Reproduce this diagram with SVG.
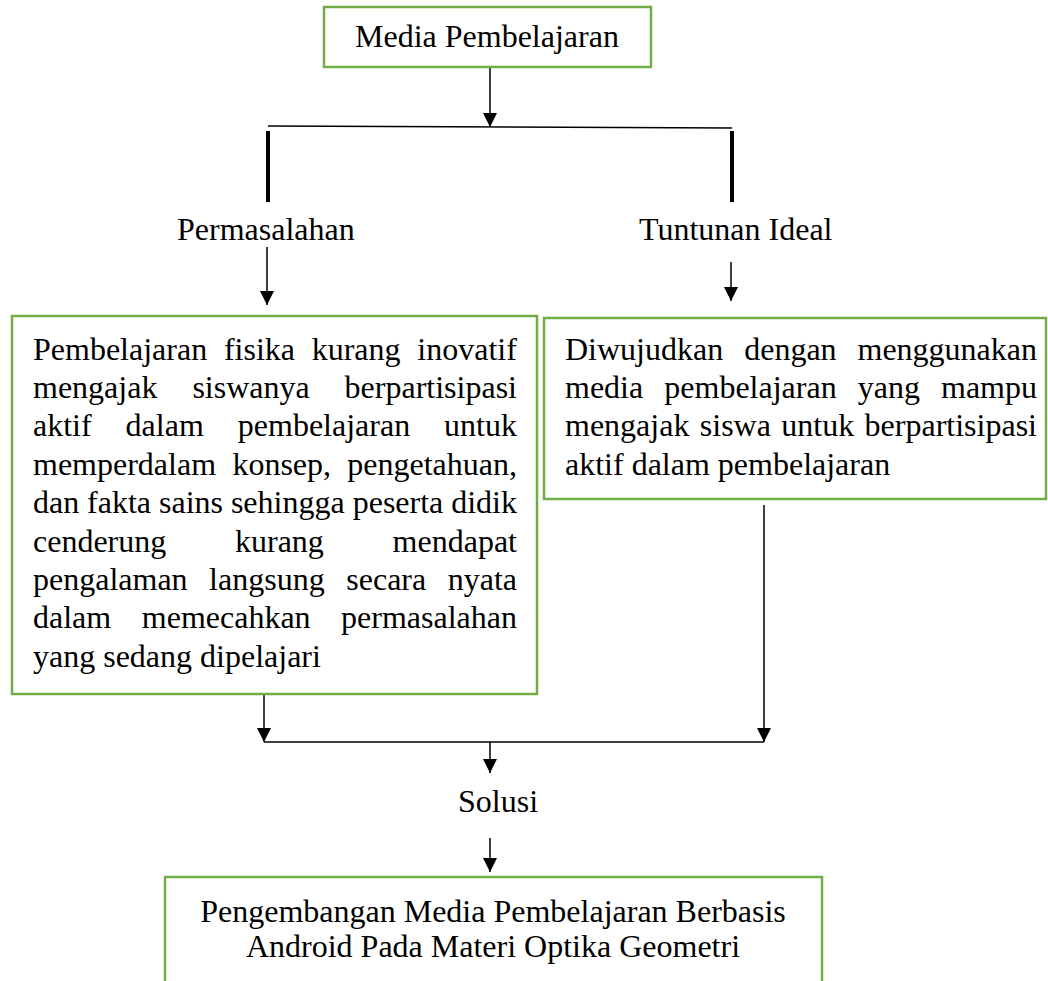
<svg xmlns="http://www.w3.org/2000/svg" width="1048" height="981" viewBox="0 0 1048 981">
<style>
.box{fill:#fff;stroke:#70AD47;stroke-width:2.5}
.t{font-family:"Liberation Serif","Times New Roman",serif;font-size:32px;fill:#000}
.c{stroke:#000;stroke-width:1.5;fill:none}
.a{marker-end:url(#ah)}
.thick{stroke:#000;stroke-width:4;fill:none}
</style>
<defs>
<marker id="ah" markerUnits="userSpaceOnUse" markerWidth="14" markerHeight="15" refX="14" refY="7" orient="auto" viewBox="0 0 14 14">
<path d="M0,0 L14,7 L0,14 z" fill="#000"/>
</marker>
</defs>
<rect width="1048" height="981" fill="#fff"/>
<g id="connectors">
<line class="c a" x1="490" y1="67" x2="490" y2="127"/>
<line class="c" x1="268" y1="126" x2="732" y2="128"/>
<line class="thick" x1="268" y1="131" x2="268" y2="202"/>
<line class="thick" x1="732" y1="131" x2="732" y2="202"/>
<line class="c a" x1="267" y1="247" x2="267" y2="305"/>
<line class="c a" x1="731" y1="262" x2="731" y2="301"/>
<line class="c a" x1="264" y1="686" x2="264" y2="742"/>
<line class="c a" x1="764" y1="505" x2="764" y2="742"/>
<line class="c" x1="264" y1="742" x2="764" y2="742"/>
<line class="c a" x1="490" y1="742" x2="490" y2="773"/>
<line class="c a" x1="490" y1="838" x2="490" y2="872"/>
</g>
<g id="node-media">
<rect class="box" x="324" y="7" width="327" height="60"/>
<text class="t" x="355" y="47">Media Pembelajaran</text>
</g>
<g id="node-permasalahan">
<text class="t" x="177" y="240">Permasalahan</text>
</g>
<g id="node-tuntunan">
<text class="t" x="639" y="240">Tuntunan Ideal</text>
</g>
<g id="node-problem">
<rect class="box" x="12" y="316" width="525" height="378"/>
<text class="t" y="360"><tspan x="33">Pembelajaran</tspan><tspan x="223.9">fisika</tspan><tspan x="311.7">kurang</tspan><tspan x="417.3">inovatif</tspan></text>
<text class="t" y="398"><tspan x="33">mengajak</tspan><tspan x="192.4">siswanya</tspan><tspan x="344.6">berpartisipasi</tspan></text>
<text class="t" y="436"><tspan x="33">aktif</tspan><tspan x="125.6">dalam</tspan><tspan x="237.8">pembelajaran</tspan><tspan x="444.1">untuk</tspan></text>
<text class="t" y="475"><tspan x="33">memperdalam</tspan><tspan x="232.4">konsep,</tspan><tspan x="347.3">pengetahuan,</tspan></text>
<text class="t" y="513"><tspan x="33">dan</tspan><tspan x="87.1">fakta</tspan><tspan x="159">sains</tspan><tspan x="230.9">sehingga</tspan><tspan x="352.7">peserta</tspan><tspan x="451.2">didik</tspan></text>
<text class="t" y="552"><tspan x="33">cenderung</tspan><tspan x="235">kurang</tspan><tspan x="392.6">mendapat</tspan></text>
<text class="t" y="590"><tspan x="33">pengalaman</tspan><tspan x="209.1">langsung</tspan><tspan x="346.3">secara</tspan><tspan x="447.7">nyata</tspan></text>
<text class="t" y="628"><tspan x="33">dalam</tspan><tspan x="141.8">memecahkan</tspan><tspan x="341.1">permasalahan</tspan></text>
<text class="t" x="33" y="667">yang sedang dipelajari</text>
</g>
<g id="node-ideal">
<rect class="box" x="544" y="318" width="502" height="181"/>
<text class="t" y="360"><tspan x="565">Diwujudkan</tspan><tspan x="744.2">dengan</tspan><tspan x="857.5">menggunakan</tspan></text>
<text class="t" y="398"><tspan x="565">media</tspan><tspan x="664.3">pembelajaran</tspan><tspan x="857.8">yang</tspan><tspan x="941">mampu</tspan></text>
<text class="t" y="436"><tspan x="565">mengajak</tspan><tspan x="699.8">siswa</tspan><tspan x="781.3">untuk</tspan><tspan x="864.6">berpartisipasi</tspan></text>
<text class="t" x="565" y="475">aktif dalam pembelajaran</text>
</g>
<g id="node-solusi">
<text class="t" x="458" y="812">Solusi</text>
</g>
<g id="node-result">
<rect class="box" x="165" y="877" width="657" height="120"/>
<text class="t" x="493" y="922" text-anchor="middle">Pengembangan Media Pembelajaran Berbasis</text>
<text class="t" x="493" y="957" text-anchor="middle">Android Pada Materi Optika Geometri</text>
</g>
</svg>
